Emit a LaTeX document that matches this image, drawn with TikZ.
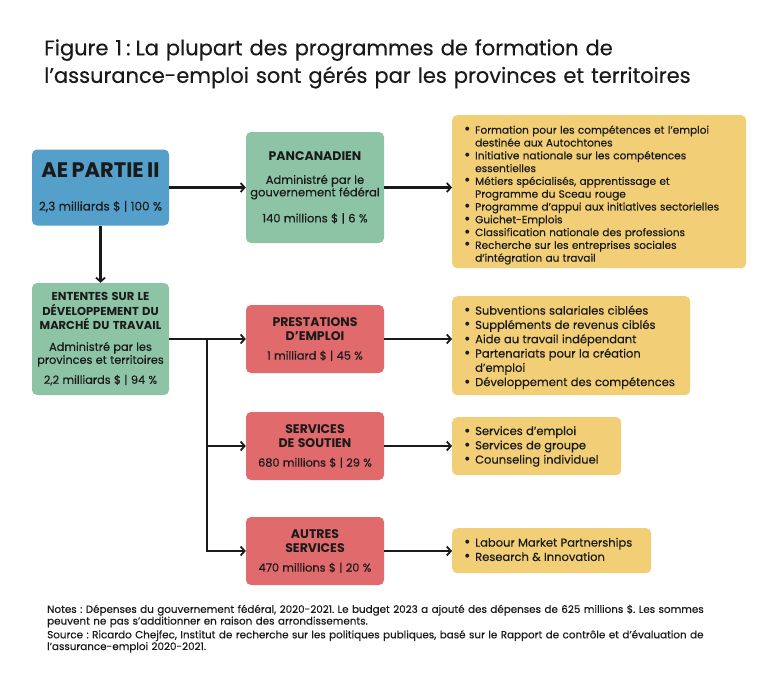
\documentclass[tikz,border=0pt]{standalone}
\usepackage{fontspec}
\setmainfont{Poppins}[UprightFeatures={FakeBold=0.35}]
\usetikzlibrary{arrows.meta}
\definecolor{cblue}{RGB}{84,160,203}
\definecolor{cgreen}{RGB}{142,196,166}
\definecolor{cred}{RGB}{225,106,108}
\definecolor{cyel}{RGB}{242,207,118}
\definecolor{ink}{RGB}{26,26,26}
\frenchspacing
\newcommand{\fs}[2]{\fontsize{#1}{#2}\selectfont}
\newcommand{\itm}[1]{\par\hangindent=11pt\hangafter=1\noindent\makebox[11pt][l]{\bfseries\fontsize{13}{13}\selectfont •}#1\par}
\tikzset{
  boxbase/.style={rounded corners=5pt, inner sep=0pt, align=center, text=ink, text width=137pt},
  arr/.style={draw=ink, line width=2.1pt, -{Straight Barb[length=4pt,width=9pt,line width=1.8pt]}},
  listbox/.style={rounded corners=5pt, fill=cyel, text=ink, anchor=north west, inner xsep=12pt, inner ysep=0pt},
  txt/.style={anchor=north west, inner sep=0pt, align=left, text=ink, text width=725pt},
}
\begin{document}
\begin{tikzpicture}[x=1pt,y=-1pt]
\frenchspacing
\useasboundingbox[fill=white] (0,0) rectangle (768,675);
% title
\node[txt, font=\fs{21}{27.6}\frenchspacing] (title) at (44,39)
  {Figure 1\hspace{4pt}:\hspace{5pt}La plupart des programmes de formation de\\l'assurance-emploi sont gérés par les provinces et territoires};
% boxes
\node[boxbase, fill=cblue, minimum width=137pt, minimum height=76pt] (ae) at (100.5,187.5)
  {{\fs{21}{24}\bfseries AE PARTIE II\par}\vspace{19pt}{\fs{12}{14}2,3 milliards \$ | 100 \%\par}};
\node[boxbase, fill=cgreen, minimum width=138pt, minimum height=111pt] (pan) at (315,187.5)
  {{\fs{12.5}{14}\bfseries PANCANADIEN\par}\vspace{11pt}{\fs{11.5}{12.5}Administré par le\\gouvernement fédéral\par}\vspace{13pt}{\fs{11.5}{13}140 millions \$ | 6 \%\par}};
\node[boxbase, fill=cgreen, minimum width=137pt, minimum height=112pt] (ent) at (100.5,339)
  {{\fs{11.5}{14.5}\bfseries ENTENTES SUR LE\\DÉVELOPPEMENT DU\\MARCHÉ DU TRAVAIL\par}\vspace{8pt}{\fs{11.3}{13}Administré par les\\provinces et territoires\par}\vspace{7pt}{\fs{11.3}{13}2,2 milliards \$ | 94 \%\par}};
\node[boxbase, fill=cred, minimum width=138pt, minimum height=68pt] (pres) at (315,339)
  {{\fs{12.5}{14.5}\bfseries PRESTATIONS\\D'EMPLOI\par}\vspace{6pt}{\fs{11.3}{13}1 milliard \$ | 45 \%\par}};
\node[boxbase, fill=cred, minimum width=138pt, minimum height=68pt] (sout) at (315,446)
  {{\fs{12.5}{14.5}\bfseries SERVICES\\DE SOUTIEN\par}\vspace{6pt}{\fs{11.3}{13}680 millions \$ | 29 \%\par}};
\node[boxbase, fill=cred, minimum width=138pt, minimum height=68pt] (aut) at (315,551)
  {{\fs{12.5}{14.5}\bfseries AUTRES\\SERVICES\par}\vspace{6pt}{\fs{11.3}{13}470 millions \$ | 20 \%\par}};
% lists
\node[listbox, minimum width=294pt, minimum height=153pt, text width=270pt] (y1) at (452,115)
  {\fs{10.5}{12.8}\vspace*{2pt}%
   \itm{Formation pour les compétences et l’emploi\newline destinée aux Autochtones}%
   \itm{Initiative nationale sur les compétences\newline essentielles}%
   \itm{Métiers spécialisés, apprentissage et\newline Programme du Sceau rouge}%
   \itm{Programme d’appui aux initiatives sectorielles}%
   \itm{Guichet-Emplois}%
   \itm{Classification nationale des professions}%
   \itm{Recherche sur les entreprises sociales\newline d’intégration au travail}};
\node[listbox, minimum width=238pt, minimum height=99pt, text width=214pt] (y2) at (452,296)
  {\fs{11.5}{14.3}\vspace*{-2pt}%
   \itm{Subventions salariales ciblées}%
   \itm{Suppléments de revenus ciblés}%
   \itm{Aide au travail indépendant}%
   \itm{Partenariats pour la création\newline d’emploi}%
   \itm{Développement des compétences}};
\node[listbox, minimum width=169pt, minimum height=58pt, text width=145pt] (y3) at (452,417)
  {\fs{11.5}{14.3}\vspace*{-5pt}%
   \itm{Services d’emploi}%
   \itm{Services de groupe}%
   \itm{Counseling individuel}};
\node[listbox, minimum width=199pt, minimum height=45pt, text width=175pt] (y4) at (452,528)
  {\fs{11.5}{14.3}\vspace*{-8pt}%
   \itm{Labour Market Partnerships}%
   \itm{Research \& Innovation}};
% connectors
\draw[arr] (ae.east) -- (pan.west);
\draw[arr] (ae.south) -- (ent.north);
\draw[arr] (pan.east) -- (pan.east -| y1.west);
\draw[arr] (ent.east) -- (pres.west);
\coordinate (br) at (207,339);
\draw[arr] (br) |- (sout.west);
\draw[arr] (br) |- (aut.west);
\draw[arr] (pres.east) -- (pres.east -| y2.west);
\draw[arr] (sout.east) -- (sout.east -| y3.west);
\draw[arr] (aut.east) -- (aut.east -| y4.west);
% notes
\node[txt, font=\fs{10.35}{11.7}\frenchspacing] (notes) at (47,604.5)
  {Notes : Dépenses du gouvernement fédéral, 2020-2021. Le budget 2023 a ajouté des dépenses de 625 millions \$. Les sommes\\peuvent ne pas s'additionner en raison des arrondissements.};
\node[txt, font=\fs{10.35}{11.7}\frenchspacing] (src) at (47,630)
  {Source : Ricardo Chejfec, Institut de recherche sur les politiques publiques, basé sur le Rapport de contrôle et d'évaluation de\\l'assurance-emploi 2020-2021.};
\end{tikzpicture}
\end{document}
